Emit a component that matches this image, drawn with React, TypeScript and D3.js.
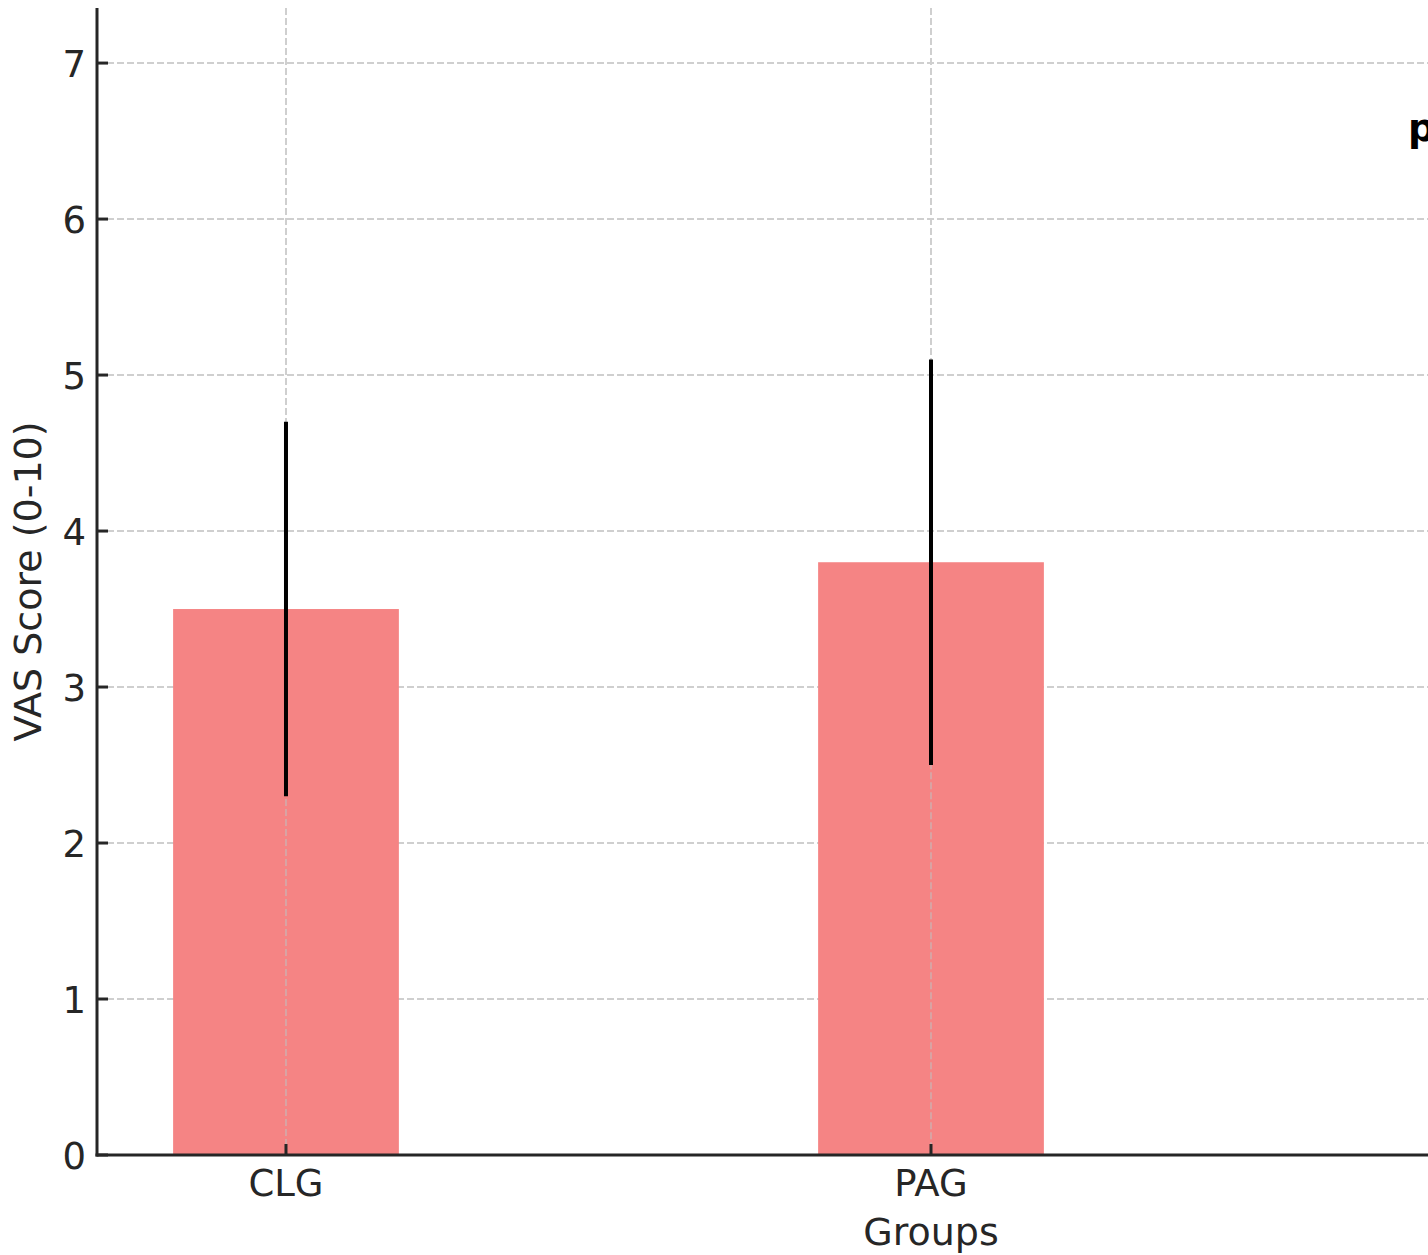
import React from "react";
import * as d3 from "d3";

const categories = ["CLG", "PAG"];
const means = [3.5, 3.8];
const errors = [1.2, 1.3];
const yTicks = [0, 1, 2, 3, 4, 5, 6, 7];
const totalGroups = 3;

const W = 1428;
const H = 1255;
const FONT = "DejaVu Sans, sans-serif";

export default function App() {
  const x = d3.scaleLinear().domain([-0.293, totalGroups - 1 + 0.293]).range([97, 1765]);
  const y = d3.scaleLinear().domain([0, 7.353]).range([1155, 8]);
  const barW = x(0.35) - x(0);
  const axisColor = "#262626";
  const grid = "#cfcfcf";
  return (
    <svg width={W} height={H} style={{ position: "absolute", left: 0, top: 0, background: "#fff" }}>
      <rect x={0} y={0} width={W} height={H} fill="#fff" />
      {yTicks.map((t) => (
        <line key={"hg" + t} x1={x.range()[0]} x2={x.range()[1]} y1={y(t)} y2={y(t)}
          stroke={grid} strokeWidth={2} strokeDasharray="7,3" />
      ))}
      {categories.map((c, i) => (
        <line key={"vg" + c} x1={x(i)} x2={x(i)} y1={y.range()[1]} y2={y.range()[0]}
          stroke={grid} strokeWidth={2} strokeDasharray="7,3" />
      ))}
      {categories.map((c, i) => (
        <rect key={"b" + c} x={x(i) - barW / 2} y={y(means[i])} width={barW}
          height={y(0) - y(means[i])} fill="#f58484" />
      ))}
      {categories.map((c, i) => (
        <line key={"vg2" + c} x1={x(i)} x2={x(i)} y1={y(means[i])} y2={y(0)}
          stroke="#d9a3a3" strokeWidth={2} strokeDasharray="7,3" />
      ))}
      {categories.map((c, i) => (
        <line key={"e" + c} x1={x(i)} x2={x(i)} y1={y(means[i] - errors[i])} y2={y(means[i] + errors[i])}
          stroke="#000" strokeWidth={4} />
      ))}
      <line x1={97} x2={97} y1={y.range()[1]} y2={y(0) + 1.5} stroke={axisColor} strokeWidth={3} />
      <line x1={95.5} x2={x.range()[1]} y1={y(0)} y2={y(0)} stroke={axisColor} strokeWidth={3} />
      {yTicks.map((t) => (
        <g key={"yt" + t}>
          <line x1={97} x2={108} y1={y(t)} y2={y(t)} stroke={axisColor} strokeWidth={3} />
          <text x={86} y={y(t) + 13.5} textAnchor="end" fontFamily={FONT} fontSize={37} fill={axisColor}>{t}</text>
        </g>
      ))}
      {categories.map((c, i) => (
        <g key={"xt" + c}>
          <line x1={x(i)} x2={x(i)} y1={y(0)} y2={y(0) - 11} stroke={axisColor} strokeWidth={3} />
          <text x={x(i)} y={1196} textAnchor="middle" fontFamily={FONT} fontSize={37} fill={axisColor}>{c}</text>
        </g>
      ))}
      <text x={(x.range()[0] + x.range()[1]) / 2} y={1245} textAnchor="middle" fontFamily={FONT} fontSize={38} fill={axisColor}>Groups</text>
      <text transform={`translate(41, ${(y.range()[0] + y.range()[1]) / 2}) rotate(-90)`} textAnchor="middle"
        fontFamily={FONT} fontSize={38} fill={axisColor}>VAS Score (0-10)</text>
      <text x={1408} y={141} fontFamily={FONT} fontSize={38} fontWeight="bold" fill="#000">p</text>
    </svg>
  );
}
